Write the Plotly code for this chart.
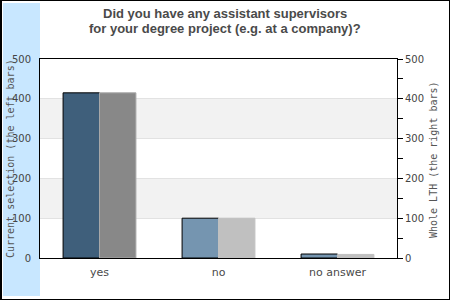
import plotly.graph_objects as go

categories = ["yes", "no", "no answer"]
current_selection = [415, 100, 10]
whole_lth = [415, 100, 9]
left_colors = ["#3f5f7b", "#7595b0", "#7595b0"]
right_colors = ["#888888", "#c0c0c0", "#c0c0c0"]
right_edge = ["#a8a8a8", "#c0c0c0", "#c0c0c0"]
y_ticks = [0, 100, 200, 300, 400, 500]

W, H = 450, 300
L, R, T, B = 40, 53, 59, 42
pw, ph = W - L - R, H - T - B

def xp(px):
    return (px - L) / pw

def yp(py):
    return (H - B - py) / ph

fig = go.Figure()
bw = 0.306
fig.add_trace(go.Bar(
    x=categories, y=current_selection, yaxis="y", width=bw, offset=-bw,
    marker=dict(color=left_colors, line=dict(color="black", width=1)),
    showlegend=False, hoverinfo="skip"))
fig.add_trace(go.Bar(
    x=categories, y=whole_lth, yaxis="y2", width=bw, offset=0,
    marker=dict(color=right_colors, line=dict(color=right_edge, width=1)),
    showlegend=False, hoverinfo="skip"))

shapes = [
    dict(type="rect", xref="paper", yref="paper", x0=xp(3), x1=xp(40), y0=yp(296), y1=yp(3),
         fillcolor="#c8e7ff", line=dict(width=0), layer="below"),
    dict(type="rect", xref="paper", yref="y", x0=0, x1=1, y0=100, y1=200,
         fillcolor="#f2f2f2", line=dict(width=0), layer="below"),
    dict(type="rect", xref="paper", yref="y", x0=0, x1=1, y0=300, y1=400,
         fillcolor="#f2f2f2", line=dict(width=0), layer="below"),
    dict(type="line", xref="paper", yref="paper", x0=xp(1), x1=xp(1), y0=yp(0), y1=yp(300),
         line=dict(color="black", width=2)),
    dict(type="line", xref="paper", yref="paper", x0=xp(0), x1=xp(450), y0=yp(0.5), y1=yp(0.5),
         line=dict(color="black", width=1)),
    dict(type="line", xref="paper", yref="paper", x0=xp(449.5), x1=xp(449.5), y0=yp(0), y1=yp(300),
         line=dict(color="black", width=1)),
    dict(type="line", xref="paper", yref="paper", x0=xp(0), x1=xp(450), y0=yp(299.5), y1=yp(299.5),
         line=dict(color="black", width=1)),
]

title_font = dict(family="Liberation Sans, Arial, sans-serif", size=13, color="#4a4a4a")
mono = dict(family="DejaVu Sans Mono, monospace", size=10, color="#555555")
annotations = [
    dict(text="<b>Did you have any assistant supervisors</b>", xref="paper", yref="paper",
         x=xp(225), y=yp(13), xanchor="center", yanchor="middle", showarrow=False, font=title_font),
    dict(text="<b>for your degree project (e.g. at a company)?</b>", xref="paper", yref="paper",
         x=xp(225), y=yp(28.5), xanchor="center", yanchor="middle", showarrow=False, font=title_font),
    dict(text="Current selection (the left bars)", xref="paper", yref="paper",
         x=xp(10), y=yp(159), xanchor="center", yanchor="middle", textangle=-90,
         showarrow=False, font=mono),
    dict(text="Whole LTH (the right bars)", xref="paper", yref="paper",
         x=xp(433), y=yp(160), xanchor="center", yanchor="middle", textangle=-90,
         showarrow=False, font=mono),
]

tick_font = dict(family="DejaVu Sans, sans-serif", size=10, color="#444444")
fig.update_layout(
    width=W, height=H, margin=dict(l=L, r=R, t=T, b=B, pad=0),
    paper_bgcolor="white", plot_bgcolor="rgba(0,0,0,0)",
    barmode="overlay", shapes=shapes, annotations=annotations,
    xaxis=dict(type="category", range=[-0.5, 2.5], showline=True, linecolor="black",
               linewidth=1, mirror=True, ticks="", showgrid=False, fixedrange=True,
               ticklabelstandoff=4,
               tickfont=dict(family="DejaVu Sans, sans-serif", size=11, color="#4a4a4a")),
    yaxis=dict(range=[0, 500], tickvals=y_ticks, ticks="", showline=True, linecolor="black",
               linewidth=1, mirror=True, showgrid=True, gridcolor="#e2e2e2", gridwidth=1,
               zeroline=False, tickfont=tick_font, ticklabelstandoff=6),
    yaxis2=dict(range=[0, 500], tickvals=y_ticks, overlaying="y", side="right",
                ticks="outside", ticklen=5, tickcolor="black", showline=True, linecolor="black",
                showgrid=False, zeroline=False, tickfont=tick_font,
                minor=dict(ticks="outside", ticklen=5, tickcolor="black", dtick=50, tick0=0)),
)

fig.write_html("out.html")
